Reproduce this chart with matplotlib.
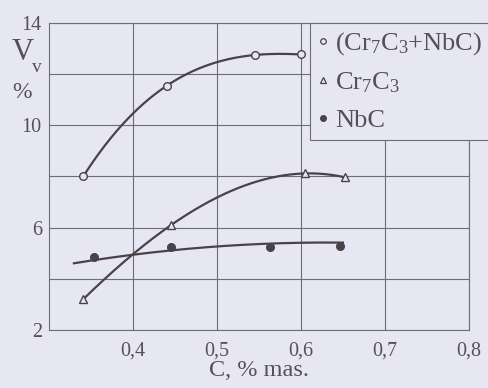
import numpy as np
import matplotlib
matplotlib.use("Agg")
import matplotlib.pyplot as plt
from matplotlib.lines import Line2D

plt.rcParams['font.family'] = ['Liberation Serif', 'DejaVu Serif']
plt.rcParams['mathtext.fontset'] = 'custom'
plt.rcParams['mathtext.rm'] = 'Liberation Serif'
plt.rcParams['mathtext.it'] = 'Liberation Serif:italic'

# ---- data ----
total_x = [0.341, 0.4405, 0.5456, 0.600]
total_y = [8.0, 11.55, 12.75, 12.77]

cr7c3_x = [0.341, 0.4455, 0.605, 0.652]
cr7c3_y = [3.2, 6.1, 8.12, 7.97]

nbc_x = [0.354, 0.4455, 0.563, 0.646]
nbc_y = [4.87, 5.26, 5.26, 5.30]

# NbC trend line as drawn in the picture
nbc_trend_x = [0.33, 0.40, 0.50, 0.60, 0.65]
nbc_trend_y = [4.58, 5.00, 5.23, 5.40, 5.43]

x_ticks = [0.4, 0.5, 0.6, 0.7, 0.8]
x_tick_labels = ["0,4", "0,5", "0,6", "0,7", "0,8"]
y_ticks = [2, 4, 6, 8, 10, 12, 14]
y_tick_labels = ["2", "", "6", "", "10", "", "14"]

labels = ["(Cr$_7$C$_3$+NbC)", "Cr$_7$C$_3$", "NbC"]

bg = "#E7E7F3"
ink = "#4A4249"
grid_c = "#6E6C78"
txt_c = "#555058"

fig = plt.figure(figsize=(4.89, 3.88), dpi=100, facecolor=bg)
ax = fig.add_axes([48.7/489, 1-330/388, (469-48.7)/489, (330-23)/388])
ax.set_facecolor(bg)

def smooth(xs, ys, deg, x0=None, x1=None):
    c = np.polyfit(xs, ys, deg)
    xx = np.linspace(xs[0] if x0 is None else x0, xs[-1] if x1 is None else x1, 200)
    return xx, np.polyval(c, xx)

xx, yy = smooth(total_x, total_y, 3)
ax.plot(xx, yy, color=ink, lw=1.6, zorder=3)
xx, yy = smooth(cr7c3_x, cr7c3_y, 3)
ax.plot(xx, yy, color=ink, lw=1.6, zorder=3)
xx, yy = smooth(nbc_trend_x, nbc_trend_y, 2)
ax.plot(xx, yy, color=ink, lw=1.6, zorder=3)

ax.plot(total_x, total_y, 'o', ms=5.5, mfc=bg, mec=ink, mew=1.0, zorder=4)
ax.plot(cr7c3_x, cr7c3_y, '^', ms=5.5, mfc=bg, mec=ink, mew=1.0, zorder=4)
ax.plot(nbc_x, nbc_y, 'o', ms=5.5, mfc=ink, mec=ink, zorder=4)

ax.set_xlim(0.3, 0.8)
ax.set_ylim(2, 14)
ax.set_xticks(x_ticks)
ax.set_xticklabels(x_tick_labels)
ax.set_yticks(y_ticks)
ax.set_yticklabels(y_tick_labels)
ax.tick_params(length=0, labelsize=14.5, colors=txt_c)
ax.tick_params(axis='x', pad=8)
ax.tick_params(axis='y', pad=5)
ax.grid(True, color=grid_c, lw=0.8)
for s in ax.spines.values():
    s.set_color(grid_c)
    s.set_linewidth(0.8)

ax.set_xlabel("C, % mas.", fontsize=17.5, color=txt_c, labelpad=0)

fig.text(23/489, 1-53/388, "V", fontsize=22, color=txt_c, ha='center', va='center')
fig.text(37/489, 1-68/388, "v", fontsize=14, color=txt_c, ha='center', va='center')
fig.text(22/489, 1-93/388, "%", fontsize=17, color=txt_c, ha='center', va='center')

handles = [
    Line2D([], [], ls='none', marker='o', ms=4, mfc=bg, mec=ink, mew=0.9),
    Line2D([], [], ls='none', marker='^', ms=4, mfc=bg, mec=ink, mew=0.9),
    Line2D([], [], ls='none', marker='o', ms=4, mfc=ink, mec=ink),
]
leg = fig.legend(handles, labels, loc='upper left',
                 bbox_to_anchor=(310/489, 1-22.7/388), bbox_transform=fig.transFigure,
                 borderaxespad=0, fontsize=19, frameon=True, fancybox=False,
                 handlelength=0.4, handletextpad=0.25, borderpad=0.3,
                 labelspacing=0.5, facecolor=bg, edgecolor=grid_c, framealpha=1)
leg.get_frame().set_linewidth(0.8)
for t in leg.get_texts():
    t.set_color(txt_c)

fig.savefig("out.png", dpi=100, facecolor=bg)
